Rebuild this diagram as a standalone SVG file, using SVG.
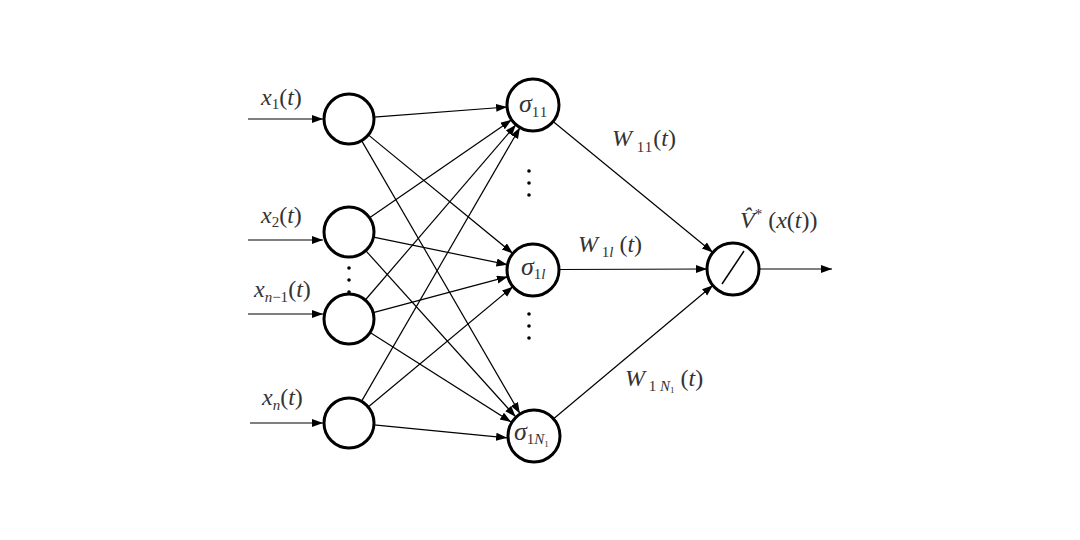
<svg xmlns="http://www.w3.org/2000/svg" width="1080" height="540" viewBox="0 0 1080 540">
<defs>
<marker id="ah" markerUnits="userSpaceOnUse" markerWidth="12" markerHeight="9" refX="11" refY="4" orient="auto">
<path d="M0,0 L11,4 L0,8 z" fill="#000"/>
</marker>
<style>
.node{fill:#fff;stroke:#000;stroke-width:3}
.c{stroke:#000;stroke-width:1.2;fill:none;marker-end:url(#ah)}
.t{font-family:"Liberation Serif","Times New Roman",serif;font-style:italic;fill:#333;font-size:24px}
.sg{font-size:26px}
.s{font-size:15px}
.u{font-style:normal}
.dot{fill:#000}
</style>
</defs>
<rect width="1080" height="540" fill="#fff"/>
<g id="connectors">
<line class="c" x1="248" y1="119" x2="323" y2="119"/>
<line class="c" x1="248" y1="240" x2="323" y2="240"/>
<line class="c" x1="248" y1="314" x2="323" y2="314"/>
<line class="c" x1="250" y1="423" x2="323" y2="423"/>
<line class="c" x1="373.9" y1="117.1" x2="507.1" y2="107.0"/>
<line class="c" x1="368.3" y1="134.9" x2="512.9" y2="253.5"/>
<line class="c" x1="361.6" y1="140.6" x2="519.9" y2="413.5"/>
<line class="c" x1="369.6" y1="217.8" x2="511.6" y2="119.8"/>
<line class="c" x1="373.5" y1="237.1" x2="507.5" y2="264.7"/>
<line class="c" x1="365.7" y1="250.6" x2="515.6" y2="416.7"/>
<line class="c" x1="365.3" y1="300.0" x2="516.0" y2="124.7"/>
<line class="c" x1="373.2" y1="312.6" x2="507.9" y2="276.7"/>
<line class="c" x1="370.1" y1="332.4" x2="511.1" y2="422.0"/>
<line class="c" x1="361.5" y1="401.4" x2="520.0" y2="127.5"/>
<line class="c" x1="368.2" y1="407.0" x2="513.0" y2="286.6"/>
<line class="c" x1="373.9" y1="424.8" x2="507.1" y2="437.8"/>
<line class="c" x1="553.1" y1="121.5" x2="712.9" y2="252.5"/>
<line class="c" x1="559" y1="269.5" x2="707" y2="269"/>
<line class="c" x1="553.0" y1="419.3" x2="713.0" y2="285.3"/>
<line class="c" x1="759" y1="269" x2="832" y2="269"/>
</g>
<g id="in1"><circle class="node" cx="349" cy="119" r="25"/></g>
<g id="in2"><circle class="node" cx="349" cy="232" r="25"/></g>
<g id="in3"><circle class="node" cx="349" cy="319" r="25"/></g>
<g id="in4"><circle class="node" cx="349" cy="423" r="25"/></g>
<g id="h1"><circle class="node" cx="533" cy="105" r="26"/>
<text class="t sg" x="519" y="112">σ<tspan class="s u" dy="5" letter-spacing="1">11</tspan></text></g>
<g id="h2"><circle class="node" cx="533" cy="270" r="26"/>
<text class="t sg" x="521" y="275">σ<tspan class="s" dy="4"><tspan class="u">1</tspan>l</tspan></text></g>
<g id="h3"><circle class="node" cx="534" cy="436" r="26"/>
<text class="t sg" x="514" y="440">σ<tspan class="s" dy="4"><tspan class="u">1</tspan>N</tspan><tspan class="u" font-size="9" dy="3">1</tspan></text></g>
<g id="out"><circle class="node" cx="733" cy="269" r="26"/>
<line x1="722" y1="284" x2="744" y2="251" stroke="#000" stroke-width="1.5"/></g>
<g id="dots">
<circle class="dot" cx="529" cy="171" r="1.8"/><circle class="dot" cx="529" cy="183" r="1.8"/><circle class="dot" cx="529" cy="195" r="1.8"/>
<circle class="dot" cx="529" cy="314" r="1.8"/><circle class="dot" cx="529" cy="326" r="1.8"/><circle class="dot" cx="529" cy="338" r="1.8"/>
<circle class="dot" cx="349" cy="268" r="1.8"/><circle class="dot" cx="349" cy="280" r="1.8"/><circle class="dot" cx="349" cy="292" r="1.8"/>
</g>
<g id="labels">
<text class="t" x="261" y="105">x<tspan class="s u" dy="4">1</tspan><tspan class="u" dy="-4">(</tspan>t<tspan class="u">)</tspan></text>
<text class="t" x="261" y="223">x<tspan class="s u" dy="4">2</tspan><tspan class="u" dy="-4">(</tspan>t<tspan class="u">)</tspan></text>
<text class="t" x="254" y="297">x<tspan class="s" dy="5">n<tspan class="u">−1</tspan></tspan><tspan class="u" dy="-5">(</tspan>t<tspan class="u">)</tspan></text>
<text class="t" x="262" y="405">x<tspan class="s" dy="5">n</tspan><tspan class="u" dy="-5">(</tspan>t<tspan class="u">)</tspan></text>
<text class="t" x="612" y="146">W<tspan class="s u" dy="6" letter-spacing="1"> 11</tspan><tspan class="u" dy="-6">(</tspan>t<tspan class="u">)</tspan></text>
<text class="t" x="578" y="252">W<tspan class="s" dy="5"><tspan class="u"> 1</tspan>l</tspan><tspan class="u" dy="-5"> (</tspan>t<tspan class="u">)</tspan></text>
<text class="t" x="625" y="386">W<tspan class="s" dy="5"><tspan class="u"> 1</tspan> N</tspan><tspan class="u" font-size="9" dy="2">1</tspan><tspan class="u" dy="-7"> (</tspan>t<tspan class="u">)</tspan></text>
<text class="t" x="740" y="228">V&#x302;<tspan class="s u" dy="-9">*</tspan><tspan class="u" dy="9"> (</tspan>x<tspan class="u">(</tspan>t<tspan class="u">))</tspan></text>
</g>
</svg>
